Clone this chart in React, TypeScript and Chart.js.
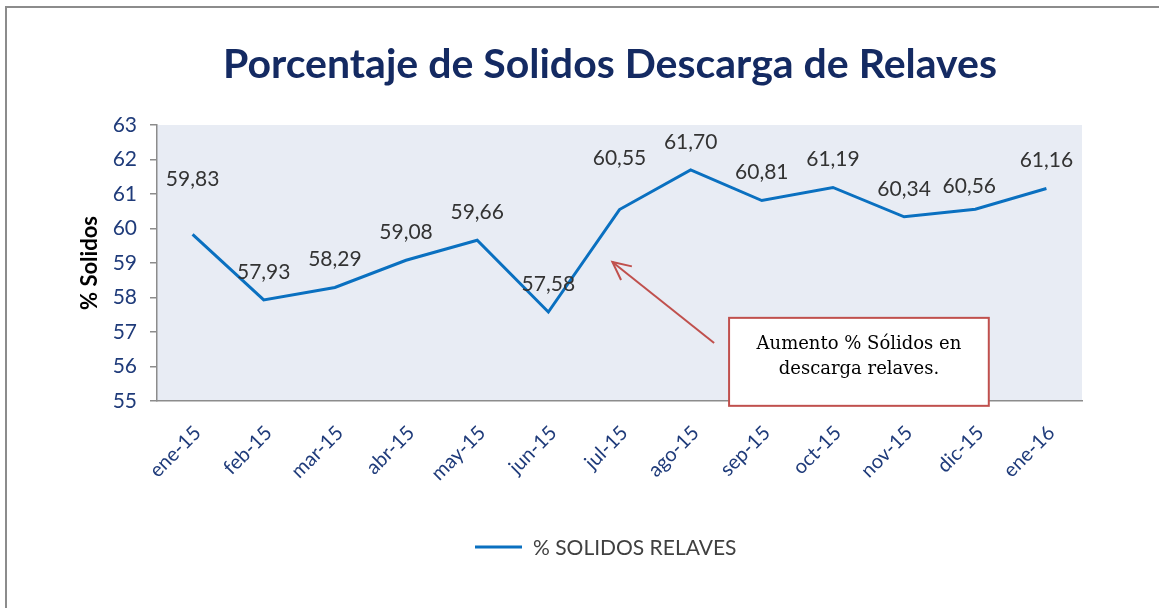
import React, { useEffect, useRef } from "react";
import { Chart, registerables } from "chart.js";

Chart.register(...registerables);

const categories = ["ene-15", "feb-15", "mar-15", "abr-15", "may-15", "jun-15", "jul-15", "ago-15", "sep-15", "oct-15", "nov-15", "dic-15", "ene-16"];
const solidos = [59.83, 57.93, 58.29, 59.08, 59.66, 57.58, 60.55, 61.7, 60.81, 61.19, 60.34, 60.56, 61.16];
const yMin = 55;
const yMax = 63;
const yStep = 1;
const seriesName = "% SOLIDOS RELAVES";
const titleText = "Porcentaje de Solidos Descarga de Relaves";
const yTitle = "% Solidos";
const noteLines = ["Aumento % Sólidos en", "descarga relaves."];
// label nudges (dx, extra dy) in px, per point
const labelNudgeX = [0, 0, 0, 0, 0, 0, 0, 0, 0, 0, 0, -6, 0];
const labelNudgeY = [-27, 0, 0, 0, 0, 0, -23, 0, 0, 0, 0, 5, 0];
// annotation anchors in data space (category index, value)
const arrowHead = [5.9, 59.03];
const arrowTail = [7.33, 56.68];
const noteBox = [7.54, 57.41, 11.19, 54.86];

const SANS = "Lato, 'Open Sans', sans-serif";
const SERIF = "'DejaVu Serif', 'Liberation Serif', serif";

const fmt = (v: number) => v.toFixed(2).replace(".", ",");

const decorPlugin = {
  id: "decor",
  beforeDraw(chart: any) {
    const { ctx, chartArea } = chart;
    ctx.save();
    ctx.fillStyle = "#ffffff";
    ctx.fillRect(0, 0, chart.width, chart.height);
    ctx.fillStyle = "#E8ECF4";
    ctx.fillRect(chartArea.left, chartArea.top, chartArea.right - chartArea.left, chartArea.bottom - chartArea.top);
    // page frame
    ctx.strokeStyle = "#8c8c8c";
    ctx.lineWidth = 2;
    ctx.beginPath();
    ctx.moveTo(6, chart.height);
    ctx.lineTo(6, 7);
    ctx.lineTo(chart.width, 7);
    ctx.stroke();
    // title
    ctx.fillStyle = "#142A62";
    ctx.font = "bold 41px " + SANS;
    ctx.textAlign = "center";
    ctx.textBaseline = "alphabetic";
    ctx.fillText(titleText, 610, 78);
    // legend
    const ds = chart.data.datasets[0];
    ctx.strokeStyle = ds.borderColor;
    ctx.lineWidth = 3;
    ctx.beginPath();
    ctx.moveTo(475, 547);
    ctx.lineTo(522, 547);
    ctx.stroke();
    ctx.fillStyle = "#404040";
    ctx.font = "21px " + SANS;
    ctx.textAlign = "left";
    ctx.textBaseline = "middle";
    ctx.fillText(ds.label, 533, 548);
    ctx.restore();
  },
  afterDatasetsDraw(chart: any) {
    const { ctx } = chart;
    const meta = chart.getDatasetMeta(0);
    const xs = chart.scales.x;
    const ys = chart.scales.y;
    ctx.save();
    // data labels
    ctx.fillStyle = "#333333";
    ctx.font = "21px " + SANS;
    ctx.textAlign = "center";
    ctx.textBaseline = "middle";
    meta.data.forEach((pt: any, i: number) => {
      ctx.fillText(fmt(solidos[i]), pt.x + labelNudgeX[i], pt.y - 28 + labelNudgeY[i]);
    });
    // arrow
    const hx = xs.getPixelForValue(arrowHead[0]);
    const hy = ys.getPixelForValue(arrowHead[1]);
    const tx = xs.getPixelForValue(arrowTail[0]);
    const ty = ys.getPixelForValue(arrowTail[1]);
    ctx.strokeStyle = "#C0504D";
    ctx.lineWidth = 2;
    ctx.beginPath();
    ctx.moveTo(tx, ty);
    ctx.lineTo(hx, hy);
    ctx.stroke();
    const ang = Math.atan2(ty - hy, tx - hx);
    const hl = 20;
    const spread = 0.45;
    ctx.beginPath();
    ctx.moveTo(hx + hl * Math.cos(ang - spread), hy + hl * Math.sin(ang - spread));
    ctx.lineTo(hx, hy);
    ctx.lineTo(hx + hl * Math.cos(ang + spread), hy + hl * Math.sin(ang + spread));
    ctx.stroke();
    // note box
    const bx1 = xs.getPixelForValue(noteBox[0]);
    const by1 = ys.getPixelForValue(noteBox[1]);
    const bx2 = xs.getPixelForValue(noteBox[2]);
    const by2 = ys.getPixelForValue(noteBox[3]);
    ctx.fillStyle = "#ffffff";
    ctx.fillRect(bx1, by1, bx2 - bx1, by2 - by1);
    ctx.strokeStyle = "#C0504D";
    ctx.lineWidth = 2;
    ctx.strokeRect(bx1, by1, bx2 - bx1, by2 - by1);
    ctx.fillStyle = "#000000";
    ctx.font = "18px " + SERIF;
    ctx.textAlign = "center";
    ctx.textBaseline = "middle";
    const cx = (bx1 + bx2) / 2;
    noteLines.forEach((ln, i) => ctx.fillText(ln, cx, by1 + 26 + i * 25));
    ctx.restore();
  },
};

export default function App() {
  const ref = useRef<HTMLCanvasElement | null>(null);
  useEffect(() => {
    document.body.style.margin = "0";
    if (!ref.current) return;
    const chart = new Chart(ref.current, {
      type: "line",
      data: {
        labels: categories,
        datasets: [
          {
            label: seriesName,
            data: solidos,
            borderColor: "#0A70C0",
            backgroundColor: "#0A70C0",
            borderWidth: 3,
            pointRadius: 0,
            tension: 0,
          },
        ],
      },
      options: {
        responsive: false,
        animation: false,
        layout: { padding: { top: 125, left: 0, right: 77, bottom: 0 } },
        plugins: {
          legend: { display: false },
          title: { display: false },
          tooltip: { enabled: false },
        },
        scales: {
          x: {
            offset: true,
            grid: { display: false, drawTicks: false },
            border: { display: true, color: "#8c8c8c", width: 1.5 },
            ticks: {
              minRotation: 45,
              maxRotation: 45,
              autoSkip: false,
              padding: 20,
              labelOffset: 5,
              color: "#1F3B7A",
              font: { family: SANS, size: 20 },
            },
            afterFit(scale: any) {
              scale.height = 207;
            },
          },
          y: {
            min: yMin,
            max: yMax,
            grid: { display: true, drawOnChartArea: false, drawTicks: true, tickLength: 7, color: "#8c8c8c", lineWidth: 1.5 },
            border: { display: true, color: "#8c8c8c", width: 1.5 },
            ticks: {
              stepSize: yStep,
              padding: 13,
              color: "#1F3B7A",
              font: { family: SANS, size: 21 },
            },
            title: {
              display: true,
              text: yTitle,
              color: "#000000",
              font: { family: SANS, size: 22, weight: "bold" },
              padding: { top: 77, bottom: 0 },
            },
            afterFit(scale: any) {
              scale.width = 157;
            },
          },
        },
      },
      plugins: [decorPlugin],
    });
    return () => chart.destroy();
  }, []);
  return (
    <div style={{ width: 1159, height: 608 }}>
      <canvas ref={ref} width={1159} height={608} style={{ display: "block" }} />
    </div>
  );
}
